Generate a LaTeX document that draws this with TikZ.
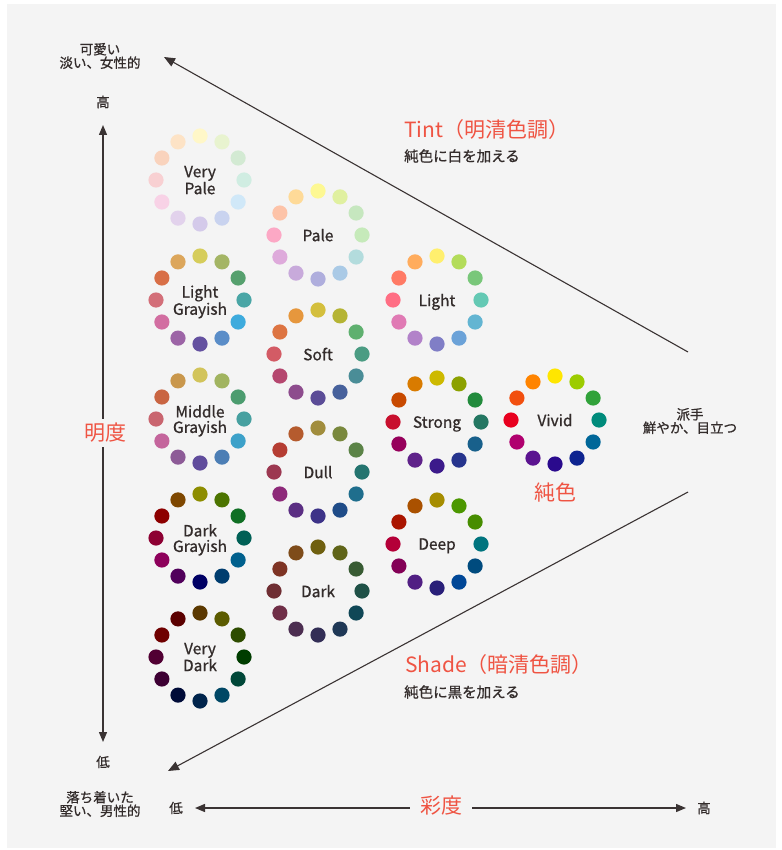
\documentclass[tikz,border=0pt]{standalone}
\usepackage{fontspec}
\setmainfont{Noto Sans CJK JP}
\newfontfamily\medfont{Noto Sans CJK JP}[FakeBold=0.9]
\usetikzlibrary{arrows.meta,calc}
\definecolor{bg}{HTML}{F4F4F4}
\definecolor{ink}{HTML}{332C2B}
\definecolor{accent}{HTML}{EF5443}
\definecolor{linec}{HTML}{3A3333}
\newcommand\fs[1]{\fontsize{#1}{#1}\selectfont}
\newcommand\colwheel[4]{%
  \node[wlabel] (#1) at (#2) {#3};
  \foreach \c [count=\i from 0] in {#4} {
    \definecolor{dotc}{HTML}{\c}
    \fill[dotc] ($(#1)+({44*sin(30*\i)},{-44*cos(30*\i)})$) circle[radius=7.6pt];
  }
}
\begin{document}
\begin{tikzpicture}[x=1pt,y=-1pt,
  wlabel/.style={text=ink,font=\medfont\fs{15.5},align=center,inner sep=0pt,text depth=0pt},
  jtext/.style={text=ink,font=\medfont\fs{13.5},align=center,inner sep=1pt},
  bigred/.style={text=accent,font=\fs{21}},
  axis/.style={draw=linec,line width=1.3pt,{Triangle[length=10pt,width=8pt]}-{Triangle[length=10pt,width=8pt]}},
  diag/.style={draw=linec,line width=1.1pt,-{Triangle[length=11pt,width=9pt]}}]
\useasboundingbox (0,0) rectangle (781,850);
\fill[white] (0,0) rectangle (781,850);
\fill[bg] (7,4) rectangle (776,848);

% wheels
\colwheel{vpale}{200,180}{Very\\Pale}{FFF7C8,E8F3CF,D3EAD3,D0EDE2,D0E8F8,C9D3EF,D4CAEA,E2D2EC,F8D2E6,F8D0D2,F9D3BD,FDE3C6}
\colwheel{pale}{318,235}{Pale}{FDF893,E0F0A0,C6E7BF,C6EABA,B3DCDD,AACAE6,AFAEDD,C8AADB,DEAADB,FCA8C5,FDC3A8,FEDA98}
\colwheel{light}{437,300}{Light}{FFEF6E,B3DC5A,79C77A,64C9B4,63B5D2,6BA2D8,807EC6,B282C9,E07AB4,FF6E84,FF7A65,FFAC5D}
\colwheel{lgray}{200,300}{Light\\Grayish}{D6CD5B,A4B565,56A06E,4AA6A6,3EABDD,5A8DC8,6451A0,9C64A6,D26EA1,D36F79,D86F47,DCA65B}
\colwheel{soft}{318,354}{Soft}{D4BF3D,B5B434,5FB06F,4B9C83,4A8D97,47619C,5B4C97,8D4C8D,B5476F,D35B65,DD7442,E6973D}
\colwheel{strong}{437,422}{Strong}{CDB900,8CA100,228B3C,247762,18608B,26348D,3C1A8B,5F228A,96005B,C8102E,C84A00,D97B00}
\colwheel{vivid}{555,420}{Vivid}{FFE600,9CCC00,31A23A,008B7B,006799,0E2490,2A0A8D,5B1390,B0006F,E8001F,F24F0F,FF8400}
\colwheel{mgray}{200,419}{Middle\\Grayish}{D2C45B,A1B460,4C9C6F,47A0A0,3DA1C9,4C7EB5,604C9C,8D5B97,C4659C,C9656F,C96542,C9974C}
\colwheel{dull}{318,472}{Dull}{A18D3D,79883D,5B8347,24746F,1F6E8D,1F4C88,3D3388,5B2E83,8D2979,9C3851,B53D33,B55B2E}
\colwheel{deep}{437,544}{Deep}{A68D00,4C9700,478D00,00747E,004B7E,004797,291F79,511F83,830056,B40038,AA1500,AA5100}
\colwheel{dgray}{200,538}{Dark\\Grayish}{8D8D00,4C7400,106F24,006056,00608D,003D6F,000065,51005B,8D005B,8D0033,8D0000,7E4700}
\colwheel{dark}{318,591}{Dark}{6F6010,606519,385B33,1F5147,104756,1F3856,332E56,4C2E51,6F2E47,6F2E33,7E3324,7E4C1A}
\colwheel{vdark}{200,657}{Very\\Dark}{5B3800,5B5B00,2E4C00,003D00,004738,004765,00244C,000B38,3D0033,510033,6F0000,5B0000}

% texts
\node[jtext] (soft1) at (100,56) {可愛い\\淡い、女性的};
\node[jtext] (hi) at (103,102) {高};
\node[jtext] (lo) at (103,762) {低};
\node[jtext] (hard) at (100,804) {落ち着いた\\堅い、男性的};
\node[jtext] (flashy) at (690,421) {派手\\鮮やか、目立つ};
\node[jtext] (slo) at (176,808) {低};
\node[jtext] (shi) at (704,808) {高};
\node[bigred] (pure) at (555,493) {純色};

\node[anchor=west,inner sep=0pt] (tint) at (404,130) {\textcolor{accent}{\fs{21}Tint（明清色調）}};
\node[anchor=west,inner sep=0pt,text=ink,font=\medfont\fs{14.5}] (tintsub) at (404,156) {純色に白を加える};
\node[anchor=west,inner sep=0pt] (shade) at (405,665) {\textcolor{accent}{\fs{21}Shade（暗清色調）}};
\node[anchor=west,inner sep=0pt,text=ink,font=\medfont\fs{14.5}] (shadesub) at (404,692) {純色に黒を加える};

% axes
\coordinate (vt) at (103,125);
\coordinate (vb) at (103,742);
\draw[axis] (vb) -- (vt);
\node[bigred,fill=bg,inner sep=4pt] (light-lbl) at (105,433) {明度};
\coordinate (hl) at (195,808);
\coordinate (hr) at (686,808);
\draw[axis] (hl) -- (hr);
\node[bigred,fill=bg,inner xsep=10pt,inner ysep=4pt] (sat-lbl) at (441,806) {彩度};

% diagonal lines
\coordinate (d1s) at (688,352);
\coordinate (d1e) at (164,57);
\coordinate (d2s) at (688,492);
\coordinate (d2e) at (168,771);
\draw[diag] (d1s) -- (d1e);
\draw[diag] (d2s) -- (d2e);
\end{tikzpicture}
\end{document}
